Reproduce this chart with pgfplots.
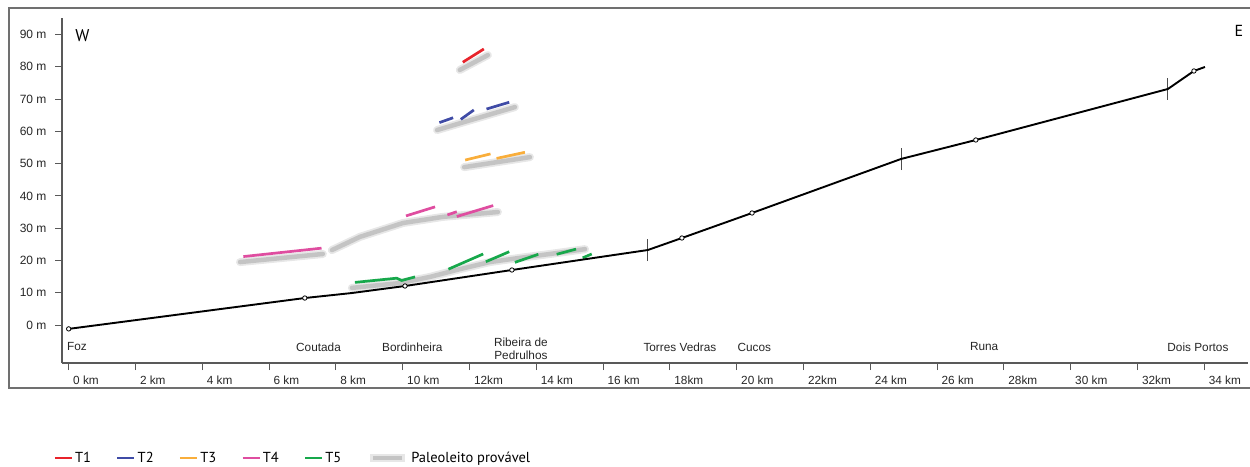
\documentclass[border=0pt]{standalone}
\usepackage{pgfplots}
\pgfplotsset{compat=1.18}
\usepackage{fontspec}
\setmainfont{Liberation Sans}
\newfontfamily\legfont{PT Sans}
\definecolor{tred}{HTML}{E8232B}
\definecolor{tblue}{HTML}{3F4BA6}
\definecolor{torange}{HTML}{F9AE3B}
\definecolor{tpink}{HTML}{DF4DA0}
\definecolor{tgreen}{HTML}{17A84B}
\definecolor{framec}{HTML}{707070}
\definecolor{paleo}{HTML}{C4C4C4}
\pgfplotsset{
  paleo/.style={no marks, forget plot, draw=paleo, line width=4.5pt, line cap=round, line join=round,
    preaction={draw=paleo!40, line width=8pt, line cap=round, line join=round}},
  terr/.style={no marks, forget plot, line width=2.7pt, line cap=butt},
}
\begin{document}
\begin{tikzpicture}
\begin{axis}[
  at={(62pt,-363pt)}, anchor=south west,
  scale only axis, width=1185.7pt, height=345pt,
  xmin=-0.2, xmax=35.3, ymin=-11.77, ymax=95.1,
  axis x line=bottom, axis y line=left,
  axis line style={-, draw=black!65, line width=1.1pt},
  tick align=outside,
  major tick length=7pt,
  tick style={draw=black!65, line width=0.9pt},
  xtick={0,2,...,34},
  xticklabels={0 km,2 km,4 km,6 km,8 km,10 km,12km,14 km,16 km,18km,20 km,22km,24 km,26 km,28km,30 km,32km,34 km},
  ytick={0,10,...,90},
  yticklabels={0 m,10 m,20 m,30 m,40 m,50 m,60 m,70 m,80 m,90 m},
  xticklabel style={anchor=base west, xshift=1pt, yshift=-14pt, font=\fontsize{11.8}{13}\selectfont, text=black!85},
  yticklabel style={xshift=-5pt, font=\fontsize{12}{14}\selectfont, text=black!85},
  legend columns=6,
  legend style={draw=none, fill=none, at={(axis description cs:-0.0098,-0.275)}, anchor=west,
    font=\legfont\fontsize{14.5}{16}\selectfont,
    /tikz/every even column/.append style={column sep=23pt}},
  legend cell align=left,
]
% paleoleito (grey)
\addplot[paleo] coordinates {(11.71,79.0) (12.55,83.6)};
\addplot[paleo] coordinates {(11.03,60.4) (13.36,67.5)};
\addplot[paleo] coordinates {(11.84,48.9) (13.81,52.0)};
\addplot[paleo] coordinates {(5.13,19.5) (7.61,22.0)};
\addplot[paleo] coordinates {(7.88,23.2) (8.72,27.3) (10.01,31.6) (11.21,33.5) (12.85,35.0)};
\addplot[paleo] coordinates {(8.48,11.5) (9.92,13.0) (10.82,14.9) (11.71,17.3) (12.61,19.5) (13.51,20.8) (14.41,22.0) (15.46,23.5)};
% T1
\addplot[terr, tred] coordinates {(11.80,81.4) (12.43,85.5)};
% T2
\addplot[terr, tblue] coordinates {(11.10,62.7) (11.51,64.2)};
\addplot[terr, tblue] coordinates {(11.74,63.7) (12.13,66.6)};
\addplot[terr, tblue] coordinates {(12.51,66.9) (13.19,69.0)};
% T3
\addplot[terr, torange] coordinates {(11.87,51.1) (12.63,53.0)};
\addplot[terr, torange] coordinates {(12.81,51.6) (13.66,53.5)};
% T4
\addplot[terr, tpink] coordinates {(5.23,21.2) (7.57,23.8)};
\addplot[terr, tpink] coordinates {(10.10,33.8) (10.97,36.6)};
\addplot[terr, tpink] coordinates {(11.34,34.1) (11.62,35.1)};
\addplot[terr, tpink] coordinates {(11.62,33.6) (12.71,37.0)};
% T5
\addplot[terr, tgreen] coordinates {(8.57,13.2) (9.82,14.5) (9.97,13.8) (10.37,14.9)};
\addplot[terr, tgreen] coordinates {(11.37,17.3) (12.41,22.0)};
\addplot[terr, tgreen] coordinates {(12.49,19.6) (13.19,22.7)};
\addplot[terr, tgreen] coordinates {(13.36,19.4) (14.06,21.9)};
\addplot[terr, tgreen] coordinates {(14.61,21.9) (15.19,23.5)};
\addplot[terr, tgreen] coordinates {(15.39,20.8) (15.66,22.0)};
% break ticks
\addplot[forget plot, no marks, black!70, line width=0.8pt] coordinates {(17.34,19.8) (17.34,26.6)};
\addplot[forget plot, no marks, black!70, line width=0.8pt] coordinates {(24.92,48.0) (24.92,54.8)};
\addplot[forget plot, no marks, black!70, line width=0.8pt] coordinates {(32.91,69.7) (32.91,76.5)};
% profile
\addplot[forget plot, no marks, black, line width=1.9pt, line join=round] coordinates {
 (0,-1.2) (7.07,8.36) (8.48,9.91) (10.07,12.08) (13.27,17.04) (17.34,23.23) (18.36,26.95)
 (20.46,34.70) (24.92,51.43) (27.16,57.31) (32.91,73.11) (33.69,78.69) (34.02,79.93)};
\addplot[forget plot, only marks, mark=*, mark size=2.2pt, mark options={fill=white, draw=black, line width=0.8pt}] coordinates {
 (0,-1.2) (7.07,8.36) (10.07,12.08) (13.27,17.04) (18.36,26.95) (20.46,34.70) (27.16,57.31) (33.69,78.69)};
% legend
\addlegendimage{legend image code/.code={\draw[tred, line width=2.6pt] (0pt,0pt) -- (17pt,0pt);}}
\addlegendentry{T1}
\addlegendimage{legend image code/.code={\draw[tblue, line width=2.6pt] (0pt,0pt) -- (17pt,0pt);}}
\addlegendentry{T2}
\addlegendimage{legend image code/.code={\draw[torange, line width=2.6pt] (0pt,0pt) -- (17pt,0pt);}}
\addlegendentry{T3}
\addlegendimage{legend image code/.code={\draw[tpink, line width=2.6pt] (0pt,0pt) -- (17pt,0pt);}}
\addlegendentry{T4}
\addlegendimage{legend image code/.code={\draw[tgreen, line width=2.6pt] (0pt,0pt) -- (17pt,0pt);}}
\addlegendentry{T5}
\addlegendimage{legend image code/.code={\draw[paleo!40, line width=8pt] (0pt,0pt) -- (35pt,0pt); \draw[paleo, line width=4.5pt] (3pt,0pt) -- (32pt,0pt);}}
\addlegendentry{Paleoleito provável}
% place names
\begin{scope}[font=\fontsize{11.8}{13}\selectfont, text=black!85]
\node[anchor=west, inner sep=0pt] at (axis cs:-0.05,-6.8) {Foz};
\node at (axis cs:7.48,-6.8) {Coutada};
\node at (axis cs:10.29,-6.8) {Bordinheira};
\node[align=center, inner sep=0pt] at (axis cs:13.54,-7.4) {Ribeira de\\Pedrulhos};
\node at (axis cs:18.30,-6.8) {Torres Vedras};
\node at (axis cs:20.53,-6.8) {Cucos};
\node at (axis cs:27.41,-6.8) {Runa};
\node at (axis cs:33.81,-6.8) {Dois Portos};
\end{scope}
\node[font=\legfont\fontsize{17}{19}\selectfont] at (axis cs:0.41,89.5) {W};
\node[font=\legfont\fontsize{16}{18}\selectfont] at (axis cs:35.04,91.2) {E};
\end{axis}
\draw[framec, line width=1.4pt] (1252pt,-8pt) -- (9pt,-8pt) -- (9pt,-388pt) -- (1252pt,-388pt);
\pgfresetboundingbox
\path[use as bounding box] (0,0) rectangle (1250pt,-466pt);
\end{tikzpicture}
\end{document}
